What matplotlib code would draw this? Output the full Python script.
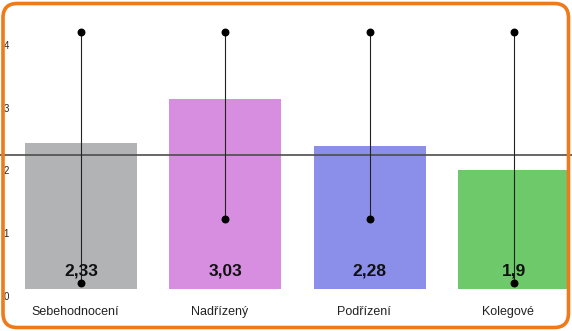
import numpy as np
import matplotlib.pyplot as plt
from matplotlib.patches import FancyBboxPatch
from matplotlib import transforms

plt.rcParams['font.family'] = ['Liberation Sans', 'DejaVu Sans']

categories = ['Sebehodnocení', 'Nadřízený', 'Podřízení', 'Kolegové']
values = [2.33, 3.03, 2.28, 1.9]
value_labels = ['2,33', '3,03', '2,28', '1,9']
range_low = [0.1, 1.11, 1.11, 0.1]
range_high = [4.09, 4.09, 4.09, 4.09]
reference_line = 2.13
colors = ['#b2b3b5', '#d78de0', '#8c8fe9', '#6ec96a']

fig = plt.figure(figsize=(5.72, 3.31), dpi=100)
ax = fig.add_axes([0, 0, 1, 1])
x = np.arange(len(categories))

ax.bar(x, values, width=0.775, color=colors, zorder=1)
ax.axhline(reference_line, color='#4d4d4d', lw=1.2, zorder=2)
ax.vlines(x, range_low, range_high, color='#222222', lw=0.8, zorder=3)
ax.scatter(x, range_low, s=22, color='black', zorder=4)
ax.scatter(x, range_high, s=22, color='black', zorder=4)

for xi, lab in zip(x, value_labels):
    ax.text(xi, 0.17, lab, ha='center', va='bottom', fontsize=12.5,
            fontweight='bold', color='#111111', zorder=5)
shift = transforms.ScaledTranslation(-6 / 100, 0, fig.dpi_scale_trans)
for xi, cat in zip(x, categories):
    ax.text(xi, -0.36, cat, ha='center', va='center', fontsize=9,
            color='#222222', transform=ax.transData + shift)

ax.set_xlim(-0.561, 3.40)
ax.set_ylim(-0.669, 4.60)
ax.set_xticks([])
ax.set_yticks(range(5))
ax.tick_params(axis='y', length=0, pad=-2.5, labelsize=7, labelcolor='#222222')
off = transforms.ScaledTranslation(0, -7 / 100, fig.dpi_scale_trans)
for t in ax.get_yticklabels():
    t.set_ha('left')
    t.set_transform(t.get_transform() + off)
for s in ax.spines.values():
    s.set_visible(False)

frame = FancyBboxPatch((3 / 572, 3.5 / 331), 565.5 / 572, 324 / 331,
                       boxstyle='round,pad=0,rounding_size=0.025',
                       transform=fig.transFigure, fill=False,
                       edgecolor='#ef7a1a', lw=2.6, zorder=10,
                       mutation_aspect=572 / 331)
fig.patches.append(frame)

fig.savefig('out.png', dpi=100)
